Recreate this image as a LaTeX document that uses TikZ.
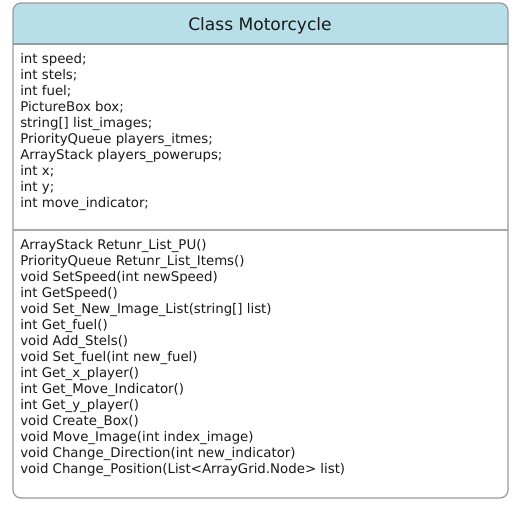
\documentclass[tikz,border=0pt]{standalone}
\usepackage{fontspec}
\setmainfont{DejaVu Sans}
\usetikzlibrary{positioning}

\definecolor{headblue}{HTML}{B8DEE8}
\definecolor{boxgray}{HTML}{999999}
\definecolor{linegray}{HTML}{AAAAAA}
\definecolor{textdark}{HTML}{1A1A1A}

\tikzset{
  member/.style={anchor=base west, inner sep=0pt, text=textdark, font=\fontsize{10}{12}\selectfont},
  title/.style={inner sep=0pt, text=textdark, font=\fontsize{12.8}{15}\selectfont}
}

\begin{document}
\begin{tikzpicture}[x=0.75pt,y=-0.75pt]
\useasboundingbox (0,0) rectangle (520,507);

\coordinate (topleft) at (13,3);
\coordinate (botright) at (508,498);
\coordinate (headL) at (13,44);
\coordinate (headR) at (508,44);
\coordinate (divL) at (13,230);
\coordinate (divR) at (508,230);

\fill[white, rounded corners=6] (topleft) rectangle (botright);
\begin{scope}
\clip (13,3) rectangle (508,44);
\fill[headblue, rounded corners=6] (topleft) rectangle (508,60);
\end{scope}

\node[title] (name) at (260,25.5) {Class Motorcycle};

\foreach \txt [count=\i] in {int speed;, int stels;, int fuel;, PictureBox box;,
  string[] list\_images;, PriorityQueue players\_itmes;, ArrayStack players\_powerups;,
  int x;, int y;, int move\_indicator;}
  \node[member] (field\i) at (20,47+16*\i) {\txt};

\foreach \txt [count=\i] in {ArrayStack Retunr\_List\_PU(), PriorityQueue Retunr\_List\_Items(),
  void SetSpeed(int newSpeed), int GetSpeed(), void Set\_New\_Image\_List(string[] list),
  int Get\_fuel(), void Add\_Stels(), void Set\_fuel(int new\_fuel), int Get\_x\_player(),
  int Get\_Move\_Indicator(), int Get\_y\_player(), void Create\_Box(),
  void Move\_Image(int index\_image), void Change\_Direction(int new\_indicator),
  void Change\_Position(List<ArrayGrid.Node> list)}
  \node[member] (method\i) at (20,233+16*\i) {\txt};

\foreach \from/\to in {headL/headR}
  \draw[boxgray, line width=1.1pt] (\from) -- (\to);
\foreach \from/\to in {divL/divR}
  \draw[linegray, line width=1.5pt] (\from) -- (\to);

\draw[boxgray, line width=0.9pt, rounded corners=6] (topleft) rectangle (botright);
\end{tikzpicture}
\end{document}
